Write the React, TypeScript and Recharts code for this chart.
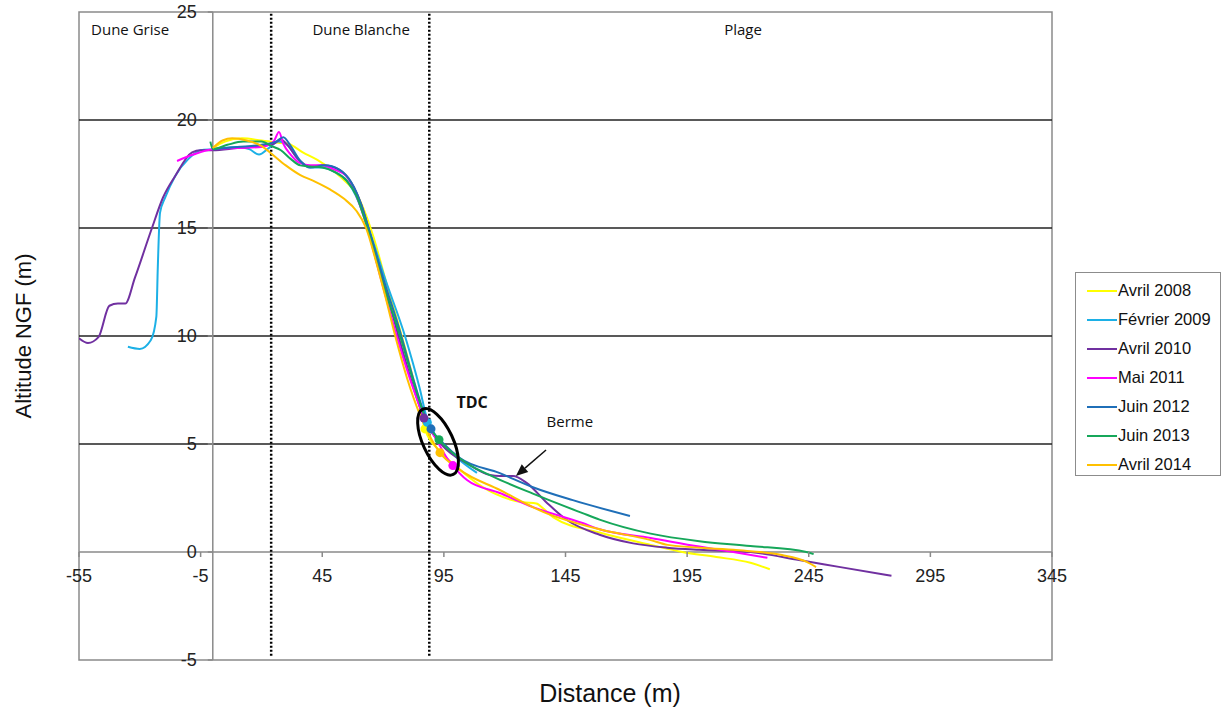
import React from "react";
import {
  ComposedChart,
  Line,
  Scatter,
  Cell,
  XAxis,
  YAxis,
  ReferenceLine,
  ReferenceArea,
  ReferenceDot,
  Label,
} from "recharts";

// profile data, [distance (m), altitude NGF (m)]
const avril2008: [number, number][] = [
  [0, 18.7], [5, 19.0], [12, 19.15], [20, 19.05], [27, 18.95], [31, 18.9], [37, 18.5],
  [43, 18.15], [50, 17.6], [55, 17.1], [59, 16.6], [63, 15.6], [66, 14.6], [72, 12.2], [77.7, 10],
  [84, 7.3], [87.2, 5.7], [93, 4.7], [98.7, 4.1], [111, 3.0], [127.5, 2.3], [133, 2.25],
  [136, 2.0], [140, 1.6], [159, 0.9], [180, 0.33], [193, 0], [207, -0.23], [221, -0.5], [229, -0.8],
];
const fevrier2009: [number, number][] = [
  [-34.9, 9.5], [-30, 9.4], [-25.5, 9.8], [-23.2, 10.9], [-22.6, 13.2], [-21.7, 15.7],
  [-19.6, 16.4], [-15.5, 17.4], [-10, 18.2], [-5, 18.6], [0, 18.65], [10, 18.75], [15, 18.65],
  [19, 18.4], [23, 18.7], [27, 19.0], [30, 18.9], [35, 18.2], [40, 17.8], [45, 17.8],
  [50, 17.6], [55, 17.2], [60, 16.2], [64, 15.0], [71, 12.6], [79, 10], [85, 7.6],
  [88, 6.2], [91, 5.5], [100, 4.4], [108.6, 3.66],
];
const avril2010: [number, number][] = [
  [-55, 9.9], [-51.3, 9.68], [-47, 9.95], [-42.5, 11.4], [-39, 11.5], [-36, 11.5],
  [-32, 12.7], [-25, 15.0], [-20.5, 16.4], [-15.5, 17.4], [-8.5, 18.5], [-5, 18.6],
  [0, 18.6], [10, 18.7], [20, 18.8], [25, 18.9], [28, 19.1], [31, 18.8], [35, 18.2],
  [40, 17.85], [45, 17.9], [50, 17.8], [55, 17.4], [58, 16.9], [61, 16.1], [64, 15.0],
  [70, 12.6], [76.3, 10], [82, 7.8], [86.8, 6.2], [94.6, 4.9], [104.5, 4.1], [114, 3.56],
  [118, 3.52], [123.4, 3.52], [129, 3.2], [137.4, 2.27], [145.6, 1.48], [159, 0.8],
  [172.8, 0.4], [186.7, 0.2], [200, 0.1], [221, 0], [241, -0.37], [258, -0.7], [279, -1.1],
];
const mai2011: [number, number][] = [
  [-14.7, 18.1], [-8, 18.4], [0, 18.65], [10, 18.7], [20, 18.75], [25, 19.0], [27.2, 19.45],
  [29, 18.9], [32, 18.4], [36, 18.0], [40, 17.9], [45, 17.9], [50, 17.7], [55, 17.4],
  [59, 16.5], [63, 15.2], [69, 12.7], [75.6, 10], [82, 7.7], [87, 6.2], [92, 5.2], [96, 4.4],
  [98.7, 4.0], [104.5, 3.33], [118, 2.73], [131.6, 2.08], [152, 1.34], [159, 1.05],
  [180, 0.65], [200, 0.25], [214, 0], [228, -0.27],
];
const juin2012: [number, number][] = [
  [0, 18.65], [10, 18.75], [20, 18.85], [26, 19.0], [29, 19.2], [32, 18.8], [36, 18.1],
  [40, 17.8], [46, 17.9], [52, 17.7], [57, 17.1], [61, 16.1], [64, 15.0], [70, 12.7],
  [77, 10.2], [83, 7.8], [87, 6.4], [89.7, 5.7], [95, 5.0], [101.6, 4.35], [118, 3.65],
  [131.6, 3.0], [148, 2.4], [171.5, 1.67],
];
const juin2013: [number, number][] = [
  [-1, 19.0], [0, 18.65], [6, 18.85], [12.5, 19.0], [20, 19.0], [24, 18.8], [28, 18.6],
  [32, 18.2], [36, 17.9], [40, 17.85], [45, 17.8], [50, 17.6], [55, 17.2], [59, 16.5],
  [63, 15.2], [70, 12.4], [77, 10], [83, 7.7], [88, 6.0], [93, 5.2], [104.5, 4.1],
  [115, 3.5], [131.6, 2.7], [152, 1.8], [159, 1.5], [180, 0.85], [200, 0.5], [221, 0.28],
  [244, 0], [247, -0.1],
];
const avril2014: [number, number][] = [
  [0, 18.7], [4, 19.05], [8, 19.15], [14, 19.05], [20, 18.8], [24, 18.45], [30, 17.9],
  [36, 17.45], [42, 17.15], [48, 16.8], [54, 16.35], [59, 15.8], [63, 15.0], [67, 13.5],
  [71, 11.8], [75, 10], [80, 8], [85, 6.4], [90, 5.2], [93.4, 4.6], [101.6, 3.8], [118, 2.87],
  [135.8, 1.86], [159, 1.05], [180, 0.55], [187, 0.33], [214, 0.1], [234, -0.14],
  [244, -0.45], [248, -0.7],
];

const seriesNames = ["Avril 2008", "Février 2009", "Avril 2010", "Mai 2011", "Juin 2012", "Juin 2013", "Avril 2014"];
const seriesData = [avril2008, fevrier2009, avril2010, mai2011, juin2012, juin2013, avril2014];
const seriesColors = ["#FFFF00", "#1CB0E6", "#7030A0", "#FF00FF", "#1F6FB8", "#16A75A", "#FFC000"];

// TDC points (trait de côte)
const tdcX = [87.2, 88.2, 86.8, 98.7, 89.7, 93, 93.4];
const tdcY = [5.7, 6.0, 6.2, 4.0, 5.7, 5.2, 4.6];

const xTicks = [-55, -5, 45, 95, 145, 195, 245, 295, 345];
const yTicks = [-5, 0, 5, 10, 15, 20, 25];
const gridValues = [5, 10, 15, 20];
const zoneLimits = [24, 89];
const zoneLabels = [
  { text: "Dune Grise", x: -34, y: 24.2 },
  { text: "Dune Blanche", x: 61, y: 24.2 },
  { text: "Plage", x: 218, y: 24.2 },
];

const CHART_W = 1225;
const CHART_H = 710;
const X_AXIS_H = 30;
const Y_AXIS_W = 30;
const MARGIN = { top: 12, right: 173, bottom: 50 - X_AXIS_H, left: 79 - Y_AXIS_W };
const X_MIN = -55;
const X_MAX = 345;
const Y_MIN = -5;
const Y_MAX = 25;
const PLOT_LEFT = MARGIN.left + Y_AXIS_W;
const PLOT_W = CHART_W - PLOT_LEFT - MARGIN.right;
const PLOT_H = CHART_H - MARGIN.top - MARGIN.bottom - X_AXIS_H;
const X0 = PLOT_LEFT + ((0 - X_MIN) / (X_MAX - X_MIN)) * PLOT_W;
const Y0 = MARGIN.top + ((Y_MAX - 0) / (Y_MAX - Y_MIN)) * PLOT_H;

const FONT = '"Liberation Sans", Arial, sans-serif';
const NOTE_FONT = '"Open Sans", "Noto Sans", sans-serif';
const AXIS_GREY = "#8a8a8a";

const XTick = (props: any) => {
  const { x, payload } = props;
  return (
    <g>
      <line x1={x} x2={x} y1={Y0} y2={Y0 + 5} stroke={AXIS_GREY} strokeWidth={1.5} />
      <text x={x} y={Y0 + 24} textAnchor="middle" dominantBaseline="central" fontSize={18} fontFamily={FONT} fill="#222">
        {payload.value}
      </text>
    </g>
  );
};

const YTick = (props: any) => {
  const { y, payload } = props;
  return (
    <g>
      <line x1={X0 - 5} x2={X0} y1={y} y2={y} stroke={AXIS_GREY} strokeWidth={1.5} />
      <text x={X0 - 16} y={y} textAnchor="end" dominantBaseline="central" fontSize={18} fontFamily={FONT} fill="#222">
        {payload.value}
      </text>
    </g>
  );
};

const Arrow = (props: any) => {
  const { x1, y1, x2, y2 } = props;
  const ang = Math.atan2(y2 - y1, x2 - x1);
  const len = 12;
  const w = 5;
  const bx = x2 - len * Math.cos(ang);
  const by = y2 - len * Math.sin(ang);
  const px = -Math.sin(ang) * w;
  const py = Math.cos(ang) * w;
  return (
    <g>
      <line x1={x1} y1={y1} x2={bx} y2={by} stroke="#111" strokeWidth={1.5} />
      <polygon points={`${x2},${y2} ${bx + px},${by + py} ${bx - px},${by - py}`} fill="#111" />
    </g>
  );
};

const TdcEllipse = (props: any) => {
  const { cx, cy } = props;
  return (
    <ellipse cx={cx} cy={cy} rx={15} ry={36} fill="none" stroke="#000" strokeWidth={3} transform={`rotate(-25 ${cx} ${cy})`} />
  );
};

export default function App() {
  const tdcData = tdcX.map((x, i) => ({ x, y: tdcY[i] }));
  return (
    <div style={{ position: "relative", width: CHART_W, height: CHART_H, background: "#fff" }}>
      <style>{"body{margin:0}"}</style>
      <ComposedChart width={CHART_W} height={CHART_H} margin={MARGIN}>
        <XAxis
          type="number"
          dataKey="x"
          domain={[X_MIN, X_MAX]}
          ticks={xTicks}
          interval={0}
          height={X_AXIS_H}
          axisLine={false}
          tickLine={false}
          tick={<XTick />}
          allowDataOverflow
        >
          <Label
            content={() => (
              <text x={610} y={693} textAnchor="middle" dominantBaseline="central" fontSize={25} fontFamily={FONT} fill="#111">
                Distance (m)
              </text>
            )}
          />
        </XAxis>
        <YAxis
          type="number"
          dataKey="y"
          domain={[Y_MIN, Y_MAX]}
          ticks={yTicks}
          interval={0}
          width={Y_AXIS_W}
          axisLine={false}
          tickLine={false}
          tick={<YTick />}
          allowDataOverflow
        >
          <Label
            content={() => (
              <text x={23} y={336} textAnchor="middle" dominantBaseline="central" fontSize={22} fontFamily={FONT} fill="#111" transform="rotate(-90 23 336)">
                Altitude NGF (m)
              </text>
            )}
          />
        </YAxis>

        <ReferenceArea x1={X_MIN} x2={X_MAX} y1={Y_MIN} y2={Y_MAX} fill="none" fillOpacity={0} stroke={AXIS_GREY} strokeWidth={1.5} />
        {gridValues.map((v) => (
          <ReferenceLine key={`g${v}`} y={v} stroke="#222" strokeWidth={1.3} />
        ))}
        <ReferenceLine y={0} stroke={AXIS_GREY} strokeWidth={1.5} />
        <ReferenceLine x={0} stroke={AXIS_GREY} strokeWidth={1.5} />
        {zoneLimits.map((v) => (
          <ReferenceLine
            key={`z${v}`}
            segment={[{ x: v, y: -4.8 }, { x: v, y: Y_MAX }]}
            stroke="#000"
            strokeWidth={2.5}
            strokeDasharray="2 2"
          />
        ))}
        {zoneLabels.map((z) => (
          <ReferenceDot
            key={z.text}
            x={z.x}
            y={z.y}
            r={0}
            fill="none"
            stroke="none"
            label={{ value: z.text, position: "center", fontSize: 15, fontFamily: NOTE_FONT, fill: "#111" }}
          />
        ))}

        {seriesData.map((d, i) => (
          <Line
            key={seriesNames[i]}
            name={seriesNames[i]}
            data={d.map(([x, y]) => ({ x, y }))}
            dataKey="y"
            type="monotone"
            stroke={seriesColors[i]}
            strokeWidth={2}
            dot={false}
            activeDot={false}
            isAnimationActive={false}
          />
        ))}

        <Scatter data={tdcData} dataKey="y" isAnimationActive={false} legendType="none" shape="circle">
          {tdcData.map((_, i) => (
            <Cell key={`c${i}`} fill={seriesColors[i]} />
          ))}
        </Scatter>

        <ReferenceDot x={92.6} y={5.1} r={1} shape={<TdcEllipse />} />
        <ReferenceDot
          x={106.6}
          y={6.94}
          r={0}
          fill="none"
          stroke="none"
          label={{ value: "TDC", position: "center", fontSize: 16, fontWeight: "bold", fontFamily: NOTE_FONT, fill: "#111" }}
        />
        <ReferenceDot
          x={146.8}
          y={6.02}
          r={0}
          fill="none"
          stroke="none"
          label={{ value: "Berme", position: "center", fontSize: 15, fontFamily: NOTE_FONT, fill: "#111" }}
        />
        <ReferenceLine segment={[{ x: 137, y: 4.72 }, { x: 124.6, y: 3.52 }]} shape={<Arrow />} />
      </ComposedChart>

      <div
        style={{
          position: "absolute",
          left: 1075,
          top: 272,
          width: 146,
          height: 204,
          border: "1px solid #8c8c8c",
          boxSizing: "border-box",
          paddingTop: 3,
          fontFamily: FONT,
          fontSize: 16.5,
          color: "#111",
        }}
      >
        {seriesNames.map((n, i) => (
          <div key={n} style={{ display: "flex", alignItems: "center", height: 29 }}>
            <span style={{ display: "inline-block", width: 30, height: 2, background: seriesColors[i], marginLeft: 11, marginRight: 1 }} />
            <span>{n}</span>
          </div>
        ))}
      </div>
    </div>
  );
}
